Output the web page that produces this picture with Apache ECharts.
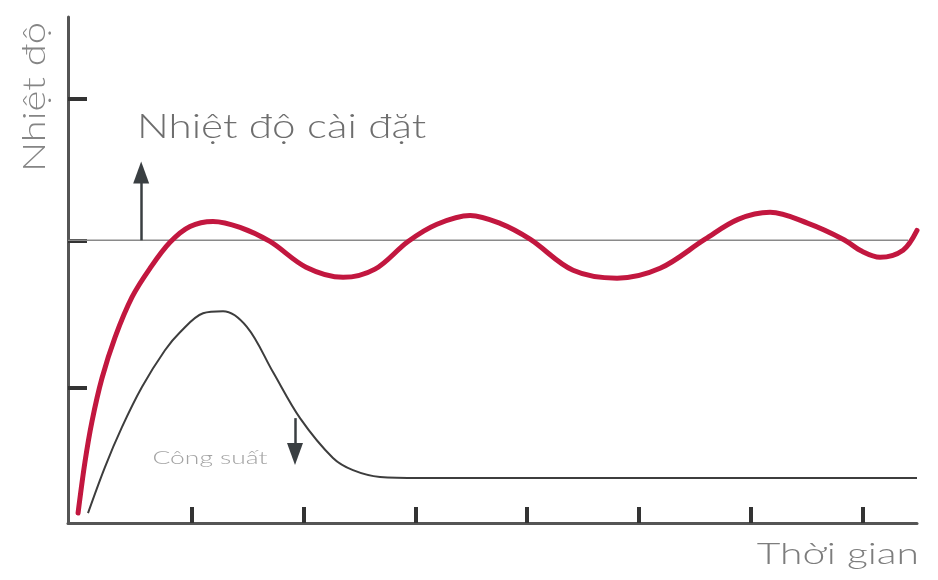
<!DOCTYPE html>
<html><head><meta charset="utf-8">
<script src="https://cdn.jsdelivr.net/npm/echarts@6/dist/echarts.min.js"></script>
<style>html,body{margin:0;padding:0;background:#fff}#c{width:938px;height:580px}</style>
</head><body><div id="c"></div>
<script>
// time values (arbitrary units) and temperature values (arbitrary units, set point = 100)
const tempX = [0.9, 1.52, 2.15, 3.04, 4.21, 5.73, 7.34, 9.13, 10.92, 12.98, 15.4, 18.08, 21.31, 24.62, 27.48, 30.44, 33.03, 35.99, 38.68, 41.36, 45.21, 49.15, 53.0, 57.03, 59.98, 62.85, 66.25, 69.38, 71.08, 72.69, 74.75, 76.0];
const tempY = [3.5, 21.6, 36.0, 51.2, 65.7, 79.9, 90.1, 99.3, 104.9, 106.7, 104.6, 99.6, 90.5, 86.9, 89.8, 99.6, 105.7, 108.8, 106.0, 100.4, 89.4, 86.6, 90.1, 100.4, 107.4, 109.9, 106.0, 100.4, 96.1, 94.0, 96.5, 103.5];
const powerX = [1.79, 3.31, 4.83, 6.62, 8.68, 10.03, 12.09, 13.88, 16.03, 18.35, 20.77, 23.72, 25.51, 27.93, 31.51, 76.0];
const powerY = [3.5, 19.8, 33.9, 48.1, 61.1, 67.5, 74.2, 74.9, 69.3, 53.4, 37.1, 23.0, 18.7, 16.3, 15.9, 15.9];
const setPointX = [0, 75.2];
const setPointY = [100, 100];
const xTicks = [11.1, 21.1, 31.1, 41.1, 51.1, 61.1, 71.1];
const yTicks = [48, 100, 150];
const riseArrow = [[6.55, 100], [6.55, 124]];
const fallArrow = [[20.32, 37.1], [20.32, 24.4]];
const labels = { yName: 'Nhiệt độ', xName: 'Thời gian', setPoint: 'Nhiệt độ cài đặt', power: 'Công suất' };

const zip = (a, b) => a.map((v, i) => [v, b[i]]);
const chart = echarts.init(document.getElementById('c'), null, { renderer: 'canvas' });
const FONT = 'Lato, "Open Sans", sans-serif';
chart.setOption({
  animation: false,
  grid: { left: 68, right: 21, top: 17, bottom: 57 },
  xAxis: {
    type: 'value', min: 0, max: 76,
    axisLine: { show: true, lineStyle: { color: '#555', width: 3 } },
    axisTick: { show: true, inside: true, length: 16, customValues: xTicks, lineStyle: { color: '#333', width: 4 } },
    axisLabel: { show: false },
    splitLine: { show: false }
  },
  yAxis: {
    type: 'value', min: 0, max: 179,
    axisLine: { show: true, lineStyle: { color: '#555', width: 3 } },
    axisTick: { show: true, inside: true, length: 19, customValues: yTicks, lineStyle: { color: '#333', width: 4 } },
    axisLabel: { show: false },
    splitLine: { show: false }
  },
  series: [
    {
      type: 'line', data: zip(setPointX, setPointY), symbol: 'none',
      lineStyle: { color: '#8a8a8a', width: 1.5 }, z: 1,
      markLine: {
        silent: true, symbol: ['none', 'triangle'], symbolSize: [16, 22],
        lineStyle: { color: '#3a3f42', width: 2.5, type: 'solid' },
        label: { show: false },
        data: [
          [{ coord: riseArrow[0] }, { coord: riseArrow[1] }],
          [{ coord: fallArrow[0] }, { coord: fallArrow[1] }]
        ]
      }
    },
    {
      type: 'line', data: zip(powerX, powerY), symbol: 'none', smooth: 0.34,
      lineStyle: { color: '#3d3d3d', width: 2 }, z: 2
    },
    {
      type: 'line', data: zip(tempX, tempY), symbol: 'none', smooth: 0.34,
      lineStyle: { color: '#c2173f', width: 5, cap: 'round' }, z: 3
    }
  ],
  graphic: [
    { type: 'text', x: 35, y: 97, rotation: Math.PI / 2, scaleX: 1.245, style: { text: labels.yName, font: '300 32px ' + FONT, fill: '#858585', textAlign: 'center', textVerticalAlign: 'middle' } },
    { type: 'text', x: 919, y: 554, scaleX: 1.36, style: { text: labels.xName, font: '300 30px ' + FONT, fill: '#7d7d7d', textAlign: 'right', textVerticalAlign: 'middle' } },
    { type: 'text', x: 137, y: 127, scaleX: 1.24, style: { text: labels.setPoint, font: '300 34px ' + FONT, fill: '#6e6e6e', textAlign: 'left', textVerticalAlign: 'middle' } },
    { type: 'text', x: 210, y: 458, scaleX: 1.47, style: { text: labels.power, font: '300 18px ' + FONT, fill: '#a3a3a3', textAlign: 'center', textVerticalAlign: 'middle' } }
  ]
});
</script></body></html>
